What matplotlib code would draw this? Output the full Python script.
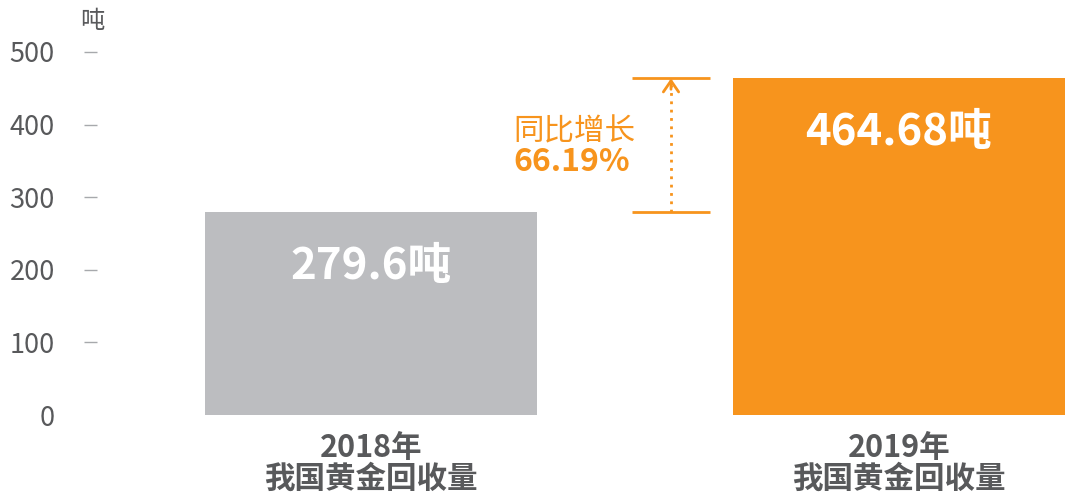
import matplotlib
matplotlib.use("Agg")
import matplotlib.pyplot as plt

plt.rcParams['font.family'] = ['Noto Sans CJK SC', 'DejaVu Sans']

years = ["2018年", "2019年"]
category = "我国黄金回收量"
values = [279.6, 464.68]
unit = "吨"
yticks = [0, 100, 200, 300, 400, 500]
growth_label = "同比增长"

ORANGE = "#F7941D"
GRAY_BAR = "#BCBDC0"
TEXT = "#58595B"
TICK = "#A7A9AC"

fig = plt.figure(figsize=(10.8, 4.95), dpi=100)
W, H = 1080, 495
left_px, right_px = 97, 1080
bot_px, top_px = 415, 52
ax = fig.add_axes([left_px / W, (H - bot_px) / H, (right_px - left_px) / W, (bot_px - top_px) / H])

c0, unit_px = 371, 528
ax.set_xlim((left_px - c0) / unit_px, (right_px - c0) / unit_px)
ax.set_ylim(0, 500)

x = [0, 1]
colors = [GRAY_BAR, ORANGE]
ax.bar(x, values, width=332 / unit_px, color=colors, zorder=2)

for xi, v in zip(x, values):
    ax.annotate(f"{v:g}{unit}", xy=(xi, v), xytext=(0, -39), textcoords="offset points",
                ha="center", va="center", color="white", fontsize=31.5, fontweight="black")

for s in ax.spines.values():
    s.set_visible(False)
ax.set_yticks(yticks)
ax.set_yticklabels([str(t) for t in yticks])
ax.tick_params(axis="y", length=9.4, width=1.0, color=TICK, pad=21, labelsize=19.5, labelcolor=TEXT)
ax.yaxis.get_major_ticks()[0].tick1line.set_visible(False)
ax.set_xticks(x)
ax.set_xticklabels([f"{y}\n{category}" for y in years], fontsize=22, fontweight="black",
                   color=TEXT, linespacing=0.92)
ax.tick_params(axis="x", length=0, pad=12.5)

fig.text(92 / W, 1 - 21 / H, unit, ha="center", va="center", fontsize=17.5, color=TEXT)

# growth bracket
bx0, bx1 = (632 - c0) / unit_px, (710 - c0) / unit_px
bxm = (bx0 + bx1) / 2
ax.hlines(values, bx0, bx1, color=ORANGE, lw=2)
ax.vlines(bxm, values[0], values[1] - 10, color=ORANGE, lw=2, linestyles=(0, (1, 2)))
ax.annotate("", xy=(bxm, values[1] - 1), xytext=(bxm, values[1] - 16),
            arrowprops=dict(arrowstyle="->,head_length=0.8,head_width=0.55", color=ORANGE, lw=2,
                            shrinkA=0, shrinkB=0))

growth = (values[1] - values[0]) / values[0] * 100
tx = (513 - c0) / unit_px
ax.text(tx, 390, growth_label, ha="left", va="center", fontsize=22, color=ORANGE)
ax.text(tx, 348, f"{growth:.2f}%", ha="left", va="center", fontsize=23, color=ORANGE, fontweight="black")

fig.savefig("out.png", dpi=100)
